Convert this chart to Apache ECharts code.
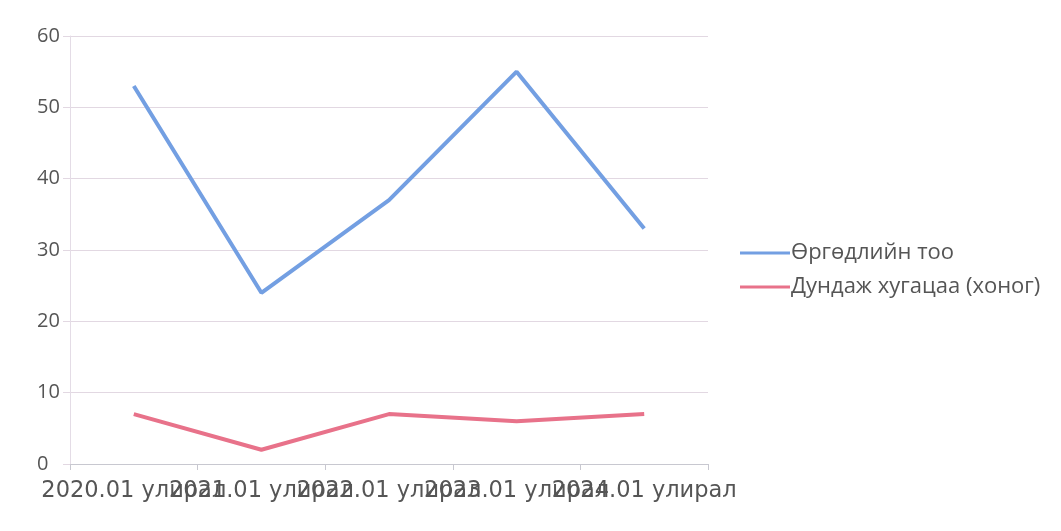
<!DOCTYPE html>
<html><head><meta charset="utf-8">
<script src="https://cdn.jsdelivr.net/npm/echarts@6/dist/echarts.min.js"></script>
<style>html,body{margin:0;padding:0;background:#fff}#c{width:1061px;height:531px}</style>
</head><body><div id="c"></div>
<script>
const categories = ["2020.01 улирал","2021.01 улирал","2022.01 улирал","2023.01 улирал","2024.01 улирал"];
const applications = [53, 24, 37, 55, 33];
const avgDays = [7, 2, 7, 6, 7];
const seriesNames = ["Өргөдлийн тоо", "Дундаж хугацаа (хоног)"];

const chart = echarts.init(document.getElementById('c'));
chart.setOption({
  backgroundColor: '#fff',
  animation: false,
  grid: {left: 70, right: 353, top: 36, bottom: 67},
  legend: {
    orient: 'vertical', left: 735, top: 237, itemGap: 12,
    itemWidth: 50, itemHeight: 21,
    icon: 'path://M0,9 L50,9 L50,12 L0,12 Z',
    textStyle: {fontFamily: 'Open Sans', fontSize: 22, color: '#555', padding: [0,0,0,-4]},
    data: seriesNames
  },
  xAxis: {
    type: 'category', data: categories, boundaryGap: true,
    axisLine: {lineStyle: {color: '#c8c8d0', width: 1}},
    axisTick: {show: true, length: 6, lineStyle: {color: '#c8c8d0'}},
    axisLabel: {interval: 0, fontFamily: 'DejaVu Sans', fontSize: 22.5, color: '#555', margin: 16}
  },
  yAxis: {
    type: 'value', min: 0, max: 60, interval: 10,
    axisLine: {show: true, lineStyle: {color: '#e4dce6', width: 1}},
    axisTick: {show: true, length: 7, lineStyle: {color: '#e2d8e2'}},
    splitLine: {lineStyle: {color: '#e2d8e2', width: 1}},
    axisLabel: {fontFamily: 'Open Sans', fontSize: 20, color: '#555', margin: 33, align: 'left'}
  },
  series: [
    {name: seriesNames[0], type: 'line', data: applications, symbol: 'none',
     lineStyle: {color: '#739fe2', width: 4}, itemStyle: {color: '#739fe2'}},
    {name: seriesNames[1], type: 'line', data: avgDays, symbol: 'none',
     lineStyle: {color: '#e8728a', width: 4}, itemStyle: {color: '#e8728a'}}
  ]
});
</script></body></html>
